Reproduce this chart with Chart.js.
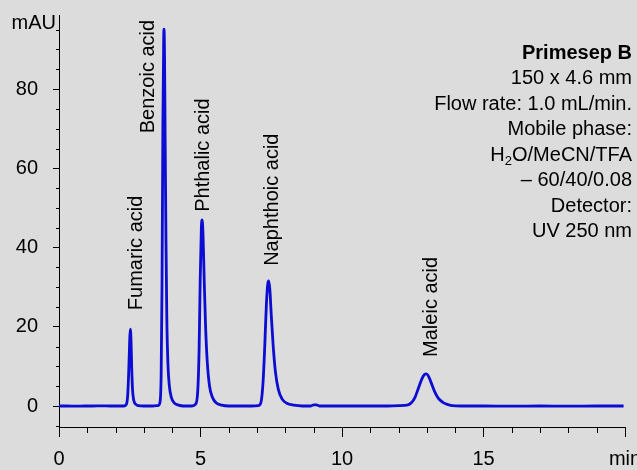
<!DOCTYPE html>
<html>
<head>
<meta charset="utf-8">
<script src="https://cdn.jsdelivr.net/npm/chart.js@4"></script>
<style>
  html, body { margin: 0; padding: 0; background: #dcdcdc; }
  #wrap { width: 637px; height: 470px; }
</style>
</head>
<body>
<div id="wrap"><canvas id="chrom" width="637" height="470"></canvas></div>
<script>
// ===== Data =====
const timeMin = [
  0.00, 0.30, 0.60, 0.90, 1.20, 1.50, 1.80, 2.10, 2.30,
  2.38, 2.43, 2.47, 2.50, 2.52, 2.545, 2.57, 2.60, 2.64, 2.70, 2.80, 3.00, 3.30, 3.50,
  3.57, 3.61, 3.64, 3.67, 3.70, 3.71, 3.73, 3.75, 3.78, 3.81, 3.85, 3.90, 3.97, 4.07, 4.20, 4.40, 4.70,
  4.82, 4.90, 4.95, 4.99, 5.03, 5.06, 5.09, 5.13, 5.18, 5.24, 5.32, 5.42, 5.55, 5.75, 6.00, 6.40, 6.80, 7.05,
  7.14, 7.21, 7.27, 7.33, 7.38, 7.41, 7.45, 7.50, 7.57, 7.65, 7.75, 7.88, 8.05, 8.30, 8.60, 8.90,
  9.00, 9.10, 9.20, 9.60, 10.0, 10.5, 11.0, 11.5, 12.0, 12.3,
  12.45, 12.58, 12.70, 12.82, 12.92, 12.98, 13.05, 13.15, 13.27, 13.40, 13.55, 13.72, 13.90, 14.20,
  15.0, 16.0, 17.0, 18.0, 19.0, 19.95
];
const absorbance = [
  0.0, 0.0, -0.05, 0.0, 0.0, 0.05, 0.0, 0.0, 0.0,
  0.4, 3.0, 10.0, 17.0, 19.4, 16.5, 9.5, 4.0, 1.5, 0.5, 0.1, 0.0, 0.0, 0.1,
  1.0, 8.0, 30.0, 70.0, 93.0, 95.1, 88.0, 68.0, 42.0, 22.0, 10.5, 5.0, 2.2, 0.8, 0.3, 0.0, 0.0,
  0.4, 3.5, 14.0, 32.0, 45.0, 47.0, 43.0, 32.0, 20.0, 11.0, 5.0, 2.2, 0.8, 0.2, 0.0, 0.0, 0.0, 0.1,
  1.0, 6.0, 15.0, 26.0, 31.0, 31.6, 29.5, 23.0, 15.0, 8.5, 4.2, 1.8, 0.7, 0.2, 0.0, 0.0,
  0.3, 0.3, 0.0, 0.0, 0.0, 0.0, 0.0, 0.0, 0.1, 0.2,
  0.8, 2.2, 4.5, 6.8, 8.0, 8.1, 7.6, 5.9, 3.7, 2.0, 1.0, 0.4, 0.1, 0.0,
  0.0, -0.05, 0.0, -0.05, 0.0, 0.0
];

const peakNames = ['Fumaric acid', 'Benzoic acid', 'Phthalic acid', 'Naphthoic acid', 'Maleic acid'];
const peakTimes = [2.52, 3.71, 5.06, 7.41, 12.98];
const peakHeights = [19.4, 95.1, 47.0, 31.6, 8.1];

const xTicks = [0, 5, 10, 15, 20];
const xTickLabels = ['0', '5', '10', '15', 'min'];
const yTicks = [0, 20, 40, 60, 80];

const infoLines = ['Primesep B', '150 x 4.6 mm', 'Flow rate: 1.0 mL/min.', 'Mobile phase:',
                   'H2O/MeCN/TFA', '\u2013 60/40/0.08', 'Detector:', 'UV 250 nm'];

// ===== Styling =====
const FONT = '"Liberation Sans", Arial, sans-serif';
const LINE_BLUE = '#0c0cd2';
// pixel nudges for the rotated peak names (dx from apex, gap above apex)
const labelDx = [6, -16, 1, 4, 5];
const labelGap = [19, -104, 8, 15, 17];

const points = timeMin.map((t, i) => ({ x: t, y: absorbance[i] }));

const extrasPlugin = {
  id: 'extras',
  afterDraw(chart) {
    const { ctx, chartArea, scales: { x, y } } = chart;
    ctx.save();
    ctx.strokeStyle = '#000';
    ctx.lineWidth = 1;

    // minor ticks
    for (let t = 0; t <= 20; t++) {
      if (t % 5 === 0) continue;
      const px = Math.round(x.getPixelForValue(t)) + 0.5;
      ctx.beginPath();
      ctx.moveTo(px, chartArea.bottom);
      ctx.lineTo(px, chartArea.bottom + 6);
      ctx.stroke();
    }
    for (let v = -5; v <= 95; v += 5) {
      if (v % 20 === 0) continue;
      const py = Math.round(y.getPixelForValue(v)) + 0.5;
      ctx.beginPath();
      ctx.moveTo(chartArea.left - 3, py);
      ctx.lineTo(chartArea.left, py);
      ctx.stroke();
    }

    ctx.fillStyle = '#000';
    // axis unit
    ctx.font = '20px ' + FONT;
    ctx.textAlign = 'right';
    ctx.textBaseline = 'middle';
    ctx.fillText('mAU', chartArea.left - 3, 23);

    // peak names
    ctx.textAlign = 'left';
    peakNames.forEach((name, i) => {
      const px = x.getPixelForValue(peakTimes[i]) + labelDx[i];
      const py = y.getPixelForValue(peakHeights[i]) - labelGap[i];
      ctx.save();
      ctx.translate(px, py);
      ctx.rotate(-Math.PI / 2);
      ctx.fillText(name, 0, 0);
      ctx.restore();
    });

    // method info block
    const right = 632;
    infoLines.forEach((line, i) => {
      const cy = 53 + i * 25.5;
      ctx.font = (i === 0 ? 'bold ' : '') + '20px ' + FONT;
      if (line.startsWith('H2O')) {
        const rest = line.slice(2);
        ctx.textAlign = 'left';
        const wRest = ctx.measureText(rest).width;
        const wH = ctx.measureText('H').width;
        ctx.font = '13px ' + FONT;
        const w2 = ctx.measureText('2').width;
        let sx = right - wRest - w2 - wH;
        ctx.font = '20px ' + FONT;
        ctx.fillText('H', sx, cy);
        ctx.font = '13px ' + FONT;
        ctx.fillText('2', sx + wH, cy + 6);
        ctx.font = '20px ' + FONT;
        ctx.fillText(rest, sx + wH + w2, cy);
      } else {
        ctx.textAlign = 'right';
        ctx.fillText(line, right, cy);
      }
    });
    ctx.restore();
  }
};

new Chart(document.getElementById('chrom'), {
  type: 'line',
  data: {
    datasets: [{
      data: points,
      borderColor: LINE_BLUE,
      borderWidth: 2.8,
      pointRadius: 0,
      cubicInterpolationMode: 'monotone',
      fill: false
    }]
  },
  options: {
    responsive: false,
    animation: false,
    events: [],
    layout: { padding: { left: 0, right: 12, top: 15, bottom: 0 } },
    plugins: { legend: { display: false }, tooltip: { enabled: false } },
    scales: {
      x: {
        type: 'linear',
        min: 0,
        max: 20,
        afterBuildTicks(scale) { scale.ticks = xTicks.map(v => ({ value: v })); },
        ticks: {
          color: '#000',
          font: { family: FONT, size: 20 },
          padding: 10,
          maxRotation: 0,
          autoSkip: false,
          callback: (v) => xTickLabels[xTicks.indexOf(v)]
        },
        grid: { drawOnChartArea: false, tickLength: 10, color: '#000' },
        border: { color: '#000', width: 1 },
        afterFit(scale) { scale.height = 43; scale.paddingLeft = 0; scale.paddingRight = 0; }
      },
      y: {
        type: 'linear',
        min: -5.3,
        max: 98.7,
        afterBuildTicks(scale) { scale.ticks = yTicks.map(v => ({ value: v })); },
        ticks: {
          color: '#000',
          font: { family: FONT, size: 20 },
          padding: 15,
          autoSkip: false
        },
        grid: { drawOnChartArea: false, tickLength: 6, color: '#000' },
        border: { color: '#000', width: 1 },
        afterFit(scale) { scale.width = 59; scale.paddingTop = 0; scale.paddingBottom = 0; }
      }
    }
  },
  plugins: [extrasPlugin]
});
</script>
</body>
</html>
